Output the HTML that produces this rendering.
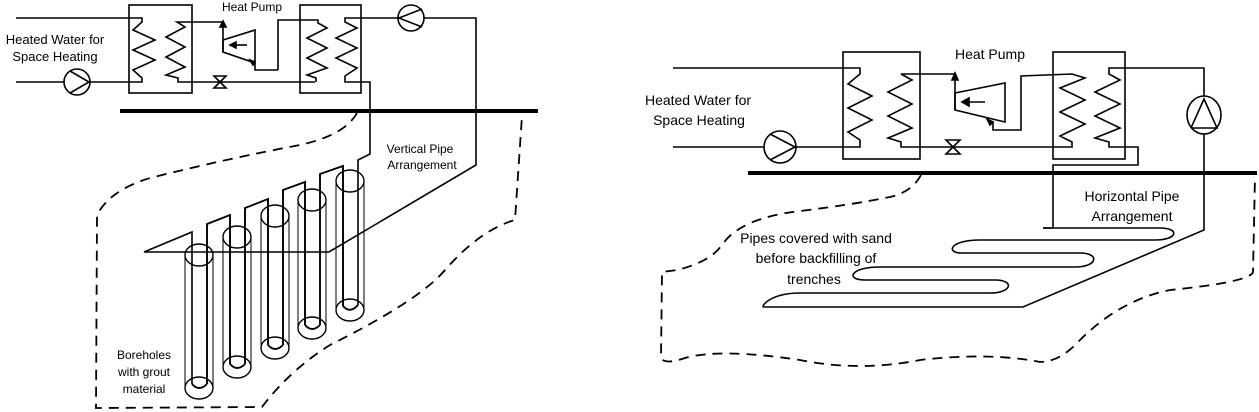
<!DOCTYPE html>
<html><head><meta charset="utf-8"><style>
html,body{margin:0;padding:0;background:#fff;}
svg{display:block}
text{font-family:"Liberation Sans",sans-serif;fill:#000;}
</style></head><body>
<svg width="1259" height="412" viewBox="0 0 1259 412" xmlns="http://www.w3.org/2000/svg">
<g fill="none" stroke="#000" stroke-width="1.6">
<!-- LEFT DIAGRAM -->
<rect x="129" y="5" width="63" height="88"/>
<rect x="300" y="5" width="61" height="88"/>
<polyline points="16,18 142,18 142,22 133,30 155,40 133,50 155,60 133,70 142,78 142,82 16,82"/>
<polyline points="223,22 177,22 185,27 166,37 185,47 166,57 185,67 166,75 178,78 178,82 315,82"/>
<polyline points="278,70 278,20 318,20 318,23 327,28 307,38 327,48 307,58 327,68 307,75 316,78 316,82"/>
<polyline points="402,18 352,18 345,18 345,22 357,28 336,38 357,48 336,58 357,68 345,76 345,82 370,82 370,154 358,160 358,305"/>
<polyline points="420,18 476,18 476,165 329,252 144,252 192,232 192,384"/>
<!-- compressor -->
<polyline points="223,22 223,52"/>
<polygon points="223,40 255,30 255,63 223,52"/>
<polyline points="255,63 255,70 278,70"/>
<line x1="232" y1="45" x2="247" y2="45"/>
<polygon points="230,45 236,42 236,48" fill="#000"/>
<polygon points="223,21 220,27 226,27" fill="#000"/>
<polygon points="255,62 250,60 253,65" fill="#000"/>
<!-- valve -->
<polygon points="214,76 226,76 214,88 226,88" fill="#fff"/>
<!-- pumps -->
<circle cx="77" cy="82" r="13" fill="#fff"/>
<polyline points="70,71 89,82 70,93"/>
<circle cx="411" cy="18" r="13" fill="#fff"/>
<polyline points="422,9 399,18 422,27"/>
<!-- borehole pipes -->
<g stroke-width="1.9">
<polyline points="207,384 207,224 230,215 230,364"/>
<polyline points="245,364 245,208 268,199 268,345"/>
<polyline points="283,345 283,190 305,182 305,325"/>
<polyline points="320,325 320,174 343,166 343,306"/>
<path d="M192,384 Q199,392 207,384"/>
<path d="M230,364 Q237,372 245,364"/>
<path d="M268,345 Q275,353 283,345"/>
<path d="M305,325 Q312,333 320,325"/>
<path d="M343,306 Q350,314 358,305"/>
</g>
</g>
<g fill="none" stroke="#000" stroke-width="1.4">
<ellipse cx="199" cy="255" rx="14" ry="11"/><ellipse cx="199" cy="388" rx="14" ry="11"/>
<line x1="185" y1="255" x2="185" y2="388" stroke-width="1"/><line x1="213" y1="255" x2="213" y2="388" stroke-width="1"/>
<ellipse cx="237" cy="237" rx="14" ry="11"/><ellipse cx="237" cy="367" rx="14" ry="11"/>
<line x1="223" y1="237" x2="223" y2="367" stroke-width="1"/><line x1="251" y1="237" x2="251" y2="367" stroke-width="1"/>
<ellipse cx="275" cy="216" rx="14" ry="11"/><ellipse cx="275" cy="348" rx="14" ry="11"/>
<line x1="261" y1="216" x2="261" y2="348" stroke-width="1"/><line x1="289" y1="216" x2="289" y2="348" stroke-width="1"/>
<ellipse cx="312" cy="200" rx="14" ry="11"/><ellipse cx="312" cy="328" rx="14" ry="11"/>
<line x1="298" y1="200" x2="298" y2="328" stroke-width="1"/><line x1="326" y1="200" x2="326" y2="328" stroke-width="1"/>
<ellipse cx="350" cy="181" rx="14" ry="11"/><ellipse cx="350" cy="310" rx="14" ry="11"/>
<line x1="336" y1="181" x2="336" y2="310" stroke-width="1"/><line x1="364" y1="181" x2="364" y2="310" stroke-width="1"/>
</g>
<line x1="120" y1="111" x2="538" y2="111" stroke="#000" stroke-width="4"/>
<path d="M357,113 Q345,135 300,145 Q230,158 150,178 Q110,190 97,215 L96,408 L262,407 Q290,370 330,345 Q420,300 445,270 Q480,230 515,220 L522,116" fill="none" stroke="#000" stroke-width="1.8" stroke-dasharray="10,7"/>
<text x="252" y="11" font-size="12" text-anchor="middle">Heat Pump</text>
<text x="55" y="44" font-size="13" text-anchor="middle">Heated Water for</text>
<text x="55" y="61" font-size="13" text-anchor="middle">Space Heating</text>
<text x="420" y="153" font-size="12" text-anchor="middle">Vertical Pipe</text>
<text x="422" y="169" font-size="12" text-anchor="middle">Arrangement</text>
<text x="144" y="359" font-size="12" text-anchor="middle">Boreholes</text>
<text x="144" y="376" font-size="12" text-anchor="middle">with grout</text>
<text x="144" y="393" font-size="12" text-anchor="middle">material</text>

<!-- RIGHT DIAGRAM -->
<g fill="none" stroke="#000" stroke-width="1.6">
<rect x="843" y="52" width="77" height="107"/>
<rect x="1053" y="52" width="72" height="107"/>
<polyline points="673,68 860,68 860,74 848,84 872,96 848,108 872,120 848,132 860,140 860,147 796,147"/>
<line x1="673" y1="147" x2="764" y2="147"/>
<polyline points="955,74 901,74 912,80 888,92 912,104 888,116 912,128 888,138 901,142 901,147 1072,147 1072,142 1060,136 1085,124 1060,112 1085,100 1060,88 1085,78 1072,74 1021,76 1021,130 993,130 993,122"/>
<polyline points="1204,97 1204,68 1109,68 1109,74 1120,80 1095,92 1120,104 1095,116 1120,128 1095,138 1109,142 1109,147 1138,147 1138,165 1053,165 1053,228 1043,228"/>
<polyline points="1204,133 1204,230 1023,307 764,307"/>
<!-- compressor -->
<line x1="955" y1="74" x2="955" y2="110"/>
<polygon points="955,93 1005,83 1005,122 955,110"/>
<line x1="965" y1="102" x2="985" y2="102"/>
<polygon points="962,102 969,98 969,106" fill="#000"/>
<polygon points="955,73 952,80 958,80" fill="#000"/>
<polygon points="993,122 987,119 990,125" fill="#000"/>
<!-- valve -->
<polygon points="946,140 960,140 946,154 960,154" fill="#fff"/>
<!-- pumps -->
<circle cx="780" cy="147" r="16" fill="#fff"/>
<polyline points="770,134 795,147 770,160"/>
<ellipse cx="1204" cy="115" rx="17" ry="19" fill="#fff"/>
<polyline points="1191,128 1204,99 1217,128 1191,128"/>
<!-- hairpins -->
<path d="M1043,228 L1160,228 C1180,228 1178,240 1155,240 L980,240 C950,240 945,253 962,253 L1080,253 C1100,253 1098,267 1075,267 L880,267 C850,267 845,280 865,280 L995,280 C1015,280 1012,293 990,293 L800,293 C770,293 760,307 764,307"/>
</g>
<line x1="748" y1="173" x2="1257" y2="173" stroke="#000" stroke-width="4"/>
<path d="M921,175 Q912,192 890,197 Q850,205 800,211 Q740,218 722,245 Q710,262 677,270 L662,272 L661,358 Q665,365 685,358 Q720,348 800,360 Q860,372 920,360 Q990,352 1040,362 Q1060,362 1080,340 Q1120,300 1170,290 Q1250,282 1253,272 L1255,176" fill="none" stroke="#000" stroke-width="1.8" stroke-dasharray="10,7"/>
<text x="990" y="59" font-size="14" text-anchor="middle">Heat Pump</text>
<text x="698" y="105" font-size="14" text-anchor="middle">Heated Water for</text>
<text x="699" y="125" font-size="14" text-anchor="middle">Space Heating</text>
<text x="1132" y="201" font-size="14" text-anchor="middle">Horizontal Pipe</text>
<text x="1132" y="221" font-size="14" text-anchor="middle">Arrangement</text>
<text x="816" y="243" font-size="14" text-anchor="middle">Pipes covered with sand</text>
<text x="816" y="263" font-size="14" text-anchor="middle">before backfilling of</text>
<text x="814" y="284" font-size="14" text-anchor="middle">trenches</text>
</svg>
</body></html>
